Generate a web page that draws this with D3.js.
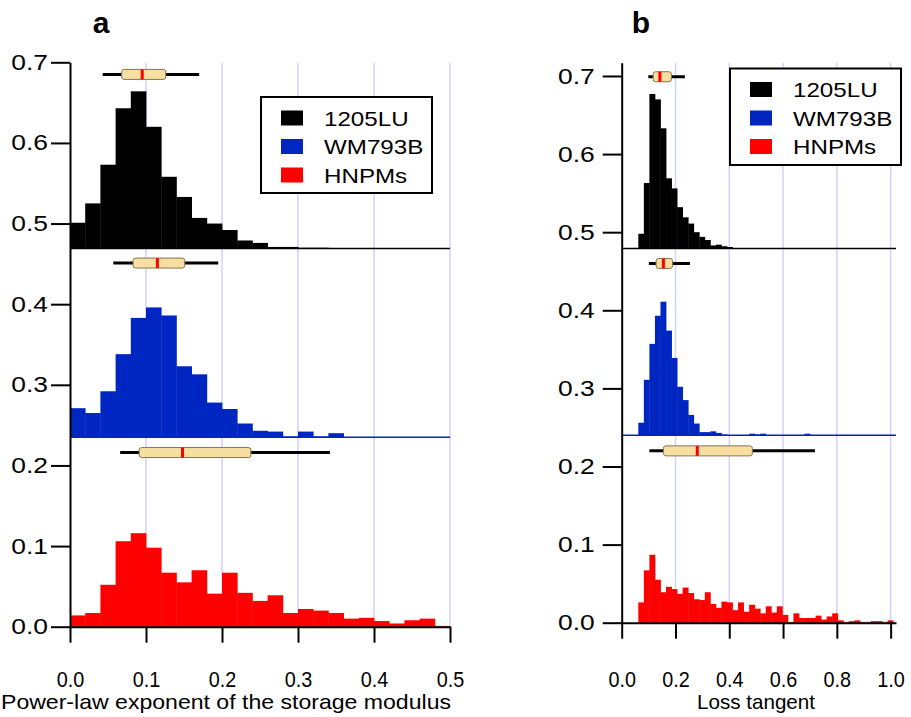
<!DOCTYPE html>
<html>
<head>
<meta charset="utf-8">
<script src="https://cdn.jsdelivr.net/npm/d3@7"></script>
<style>
  body { margin: 0; background: #fff; }
  text { font-family: "Liberation Sans", Arial, sans-serif; fill: #000; }
</style>
</head>
<body>
<div id="chart"></div>
<script>
// series names + colours
var names = ["1205LU", "WM793B", "HNPMs"];
var colors = ["#000000", "#0026c2", "#fe0000"];

// panel a : power-law exponent, bins of 0.02 from 0
var binA = 0.02;
var a1205 = [0.032, 0.056, 0.104, 0.174, 0.195, 0.151, 0.089, 0.064, 0.038, 0.031, 0.023, 0.010, 0.007, 0.002, 0.002, 0.001, 0.001, 0, 0, 0, 0, 0, 0, 0, 0];
var aWM = [0.036, 0.030, 0.057, 0.103, 0.148, 0.161, 0.151, 0.088, 0.078, 0.043, 0.035, 0.017, 0.008, 0.007, 0.001, 0.007, 0.001, 0.005, 0, 0, 0, 0, 0, 0, 0];
var aHN = [0.014, 0.017, 0.052, 0.106, 0.116, 0.098, 0.067, 0.055, 0.070, 0.041, 0.067, 0.042, 0.032, 0.039, 0.017, 0.022, 0.020, 0.017, 0.010, 0.011, 0.007, 0.004, 0.008, 0.010, 0.001];
var aOffsets = [0.469, 0.235, 0];
// box stats: [whisker low, q1, median, q3, whisker high]
var aBox1205 = [0.043, 0.068, 0.095, 0.126, 0.170];
var aBoxWM = [0.057, 0.083, 0.115, 0.151, 0.195];
var aBoxHN = [0.066, 0.091, 0.148, 0.238, 0.342];
var aXTicks = [0, 0.1, 0.2, 0.3, 0.4, 0.5];

// panel b : loss tangent, bins of 0.0206 from 0
var binB = 0.0206;
var b1205 = [0, 0, 0, 0.019, 0.084, 0.198, 0.191, 0.154, 0.090, 0.077, 0.053, 0.040, 0.032, 0.021, 0.015, 0.011, 0.004, 0.005, 0.003, 0.002];
var bWM = [0, 0, 0, 0.016, 0.071, 0.117, 0.153, 0.171, 0.134, 0.099, 0.062, 0.045, 0.026, 0.015, 0.004, 0.004, 0.005, 0.003, 0.001, 0, 0, 0, 0, 0.002, 0.001, 0.002, 0, 0, 0, 0, 0, 0, 0, 0.002];
var bHN = [0, 0, 0, 0.026, 0.067, 0.087, 0.055, 0.039, 0.046, 0.043, 0.037, 0.045, 0.038, 0.030, 0.029, 0.039, 0.024, 0.019, 0.027, 0.026, 0.016, 0.026, 0.014, 0.023, 0.018, 0.012, 0.021, 0.013, 0.021, 0.010, 0.001, 0.012, 0.006, 0.006, 0.006, 0.009, 0.004, 0.008, 0.012, 0.003, 0.001, 0.002, 0.003, 0.001, 0.001, 0.002, 0.002, 0.001, 0.003];
var bOffsets = [0.479, 0.240, 0];
var bBox1205 = [0.099, 0.117, 0.142, 0.185, 0.235];
var bBoxWM = [0.101, 0.128, 0.155, 0.189, 0.254];
var bBoxHN = [0.103, 0.155, 0.281, 0.486, 0.719];
var bXTicks = [0, 0.2, 0.4, 0.6, 0.8, 1.0];

var yTicks = [0, 0.1, 0.2, 0.3, 0.4, 0.5, 0.6, 0.7];

var svg = d3.select("#chart").append("svg")
    .attr("width", 911)
    .attr("height", 717);

// stretch / squeeze text horizontally
function stretch(sel, k) {
    sel.each(function () {
        var n = this.getComputedTextLength();
        d3.select(this).attr("textLength", n * k).attr("lengthAdjust", "spacingAndGlyphs");
    });
}

function drawPanel(p) {
    var x = d3.scaleLinear().domain(p.xDomain).range(p.xRange);
    var y = d3.scaleLinear().domain(p.yDomain).range(p.yRange);
    var g = svg.append("g");

    // light blue grid
    g.selectAll(".grid")
        .data(p.xTicks.filter(function (d) { return d > 0; }))
        .enter().append("line")
        .attr("x1", function (d) { return x(d); })
        .attr("x2", function (d) { return x(d); })
        .attr("y1", y(0))
        .attr("y2", y(p.yDomain[1]))
        .attr("stroke", "#d2d2fa")
        .attr("stroke-width", 1.5);

    // histograms, stacked with offsets
    p.series.forEach(function (vals, s) {
        var base = p.offsets[s];
        var bars = vals.map(function (v, i) { return { i: i, v: v }; }).filter(function (d) { return d.v > 0; });
        g.append("g").selectAll("rect")
            .data(bars)
            .enter().append("rect")
            .attr("x", function (d) { return x(d.i * p.bin); })
            .attr("width", function (d) { return x((d.i + 1) * p.bin) - x(d.i * p.bin) + 0.4; })
            .attr("y", function (d) { return y(base + d.v); })
            .attr("height", function (d) { return y(base) - y(base + d.v); })
            .attr("fill", colors[s]);
        if (base > 0) {
            g.append("line")
                .attr("x1", x(0)).attr("x2", p.xRange[1])
                .attr("y1", y(base)).attr("y2", y(base))
                .attr("stroke", colors[s])
                .attr("stroke-width", 1.5);
        }
        // box plot above each histogram
        var b = p.boxes[s];
        var yb = y(base + p.boxLift);
        g.append("line")
            .attr("x1", x(b[0])).attr("x2", x(b[4]))
            .attr("y1", yb).attr("y2", yb)
            .attr("stroke", "#000").attr("stroke-width", 3);
        g.append("rect")
            .attr("x", x(b[1])).attr("width", x(b[3]) - x(b[1]))
            .attr("y", yb - 5).attr("height", 10)
            .attr("rx", 2.5)
            .attr("fill", "#f7dfa2")
            .attr("stroke", "#85754e").attr("stroke-width", 1);
        g.append("line")
            .attr("x1", x(b[2])).attr("x2", x(b[2]))
            .attr("y1", yb - 5).attr("y2", yb + 5)
            .attr("stroke", "#fe0000").attr("stroke-width", 3);
    });

    // axes
    var yAxis = g.append("g")
        .attr("transform", "translate(" + x(0) + ",0)")
        .call(d3.axisLeft(y).tickValues(yTicks).tickFormat(d3.format(".1f")).tickSize(19).tickSizeOuter(0).tickPadding(p.yPad));
    var xAxis = g.append("g")
        .attr("transform", "translate(0," + y(0) + ")")
        .call(d3.axisBottom(x).tickValues(p.xTicks).tickFormat(d3.format(".1f")).tickSize(16).tickSizeOuter(0).tickPadding(p.xPad));
    [yAxis, xAxis].forEach(function (ax) {
        ax.select(".domain").attr("stroke-width", 2);
        ax.selectAll(".tick line").attr("stroke-width", 2);
        ax.selectAll("text").attr("font-size", 22).attr("font-family", "Liberation Sans, Arial, sans-serif");
    });
    stretch(yAxis.selectAll("text"), 1.2);
    stretch(xAxis.selectAll("text"), 0.9);

    // axis title
    var title = g.append("text")
        .attr("x", p.titleX).attr("y", 709)
        .attr("text-anchor", "middle")
        .attr("font-size", 21)
        .text(p.title);
    if (p.titleLen) title.attr("textLength", p.titleLen).attr("lengthAdjust", "spacingAndGlyphs");

    // panel letter
    g.append("text")
        .attr("x", p.letterX).attr("y", 33)
        .attr("text-anchor", "middle")
        .attr("font-size", 30).attr("font-weight", "bold")
        .text(p.letter);

    // legend
    var lg = g.append("g").attr("transform", "translate(" + p.legend[0] + "," + p.legend[1] + ")");
    lg.append("rect")
        .attr("width", p.legend[2]).attr("height", p.legend[3])
        .attr("fill", "#fff").attr("stroke", "#000").attr("stroke-width", 2);
    names.forEach(function (n, i) {
        var cy = 21 + i * 28.5;
        lg.append("rect")
            .attr("x", 20).attr("y", cy - 7.5)
            .attr("width", 22).attr("height", 15)
            .attr("fill", colors[i]);
        var t = lg.append("text")
            .attr("x", 63).attr("y", cy + 7.5)
            .attr("font-size", 21)
            .text(n);
        stretch(t, 1.15);
    });
}

drawPanel({
    letter: "a", letterX: 101,
    xDomain: [0, 0.5], xRange: [70, 450],
    yDomain: [0, 0.7], yRange: [626.7, 62.3],
    xTicks: aXTicks, bin: binA,
    series: [a1205, aWM, aHN], offsets: aOffsets,
    boxes: [aBox1205, aBoxWM, aBoxHN], boxLift: 0.216,
    yPad: 3, xPad: 29,
    title: "Power-law exponent of the storage modulus", titleX: 226, titleLen: 450,
    legend: [261, 97, 171, 96]
});

drawPanel({
    letter: "b", letterX: 641,
    xDomain: [0, 1.02], xRange: [621.7, 896],
    yDomain: [0, 0.717], yRange: [622.7, 62.7],
    xTicks: bXTicks, bin: binB,
    series: [b1205, bWM, bHN], offsets: bOffsets,
    boxes: [bBox1205, bBoxWM, bBoxHN], boxLift: 0.22,
    yPad: 8, xPad: 33,
    title: "Loss tangent", titleX: 756, titleLen: 118,
    legend: [730, 68.5, 171, 96.5]
});
</script>
</body>
</html>
